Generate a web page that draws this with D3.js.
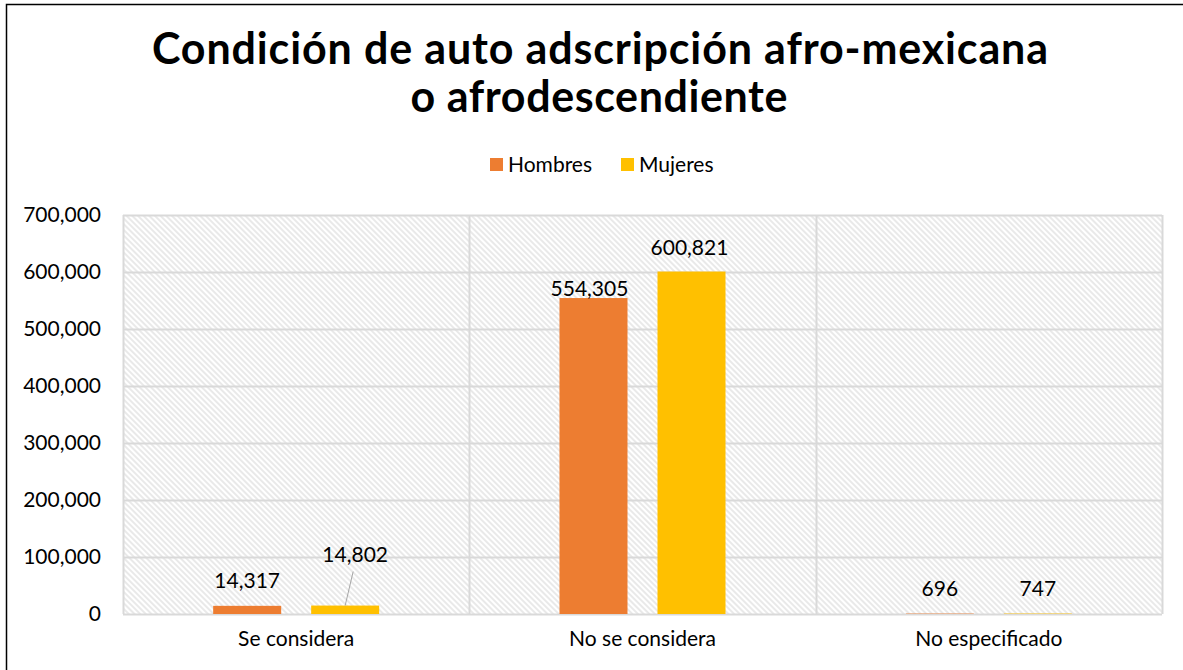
<!DOCTYPE html>
<html>
<head>
<meta charset="utf-8">
<script src="https://cdn.jsdelivr.net/npm/d3@7"></script>
<style>
  body { margin: 0; background: #fff; }
  text { font-family: Lato, "Open Sans", sans-serif; fill: #000; }
</style>
</head>
<body>
<div id="chart"></div>
<script>
// chart data
const categories = ['Se considera', 'No se considera', 'No especificado'];
const seriesNames = ['Hombres', 'Mujeres'];
const hombres = [14317, 554305, 696];
const mujeres = [14802, 600821, 747];
const yTicks = [0, 100000, 200000, 300000, 400000, 500000, 600000, 700000];
const colors = ['#ED7D31', '#FFC000'];

const width = 1183;
const height = 670;
const margin = {top: 215, right: 21, bottom: 56, left: 123};
const plotW = width - margin.left - margin.right;
const plotH = height - margin.top - margin.bottom;

const svg = d3.select('#chart')
    .append('svg')
    .attr('width', width)
    .attr('height', height);

// hatched background pattern
const defs = svg.append('defs');
const pat = defs.append('pattern')
    .attr('id', 'hatch')
    .attr('patternUnits', 'userSpaceOnUse')
    .attr('width', 4)
    .attr('height', 4)
    .attr('patternTransform', 'rotate(45)');
pat.append('rect').attr('width', 4).attr('height', 4).attr('fill', '#fff');
pat.append('line')
    .attr('x1', 0).attr('y1', 2).attr('x2', 4).attr('y2', 2)
    .attr('stroke', '#d4d4d4')
    .attr('stroke-width', 1);

// outer frame (left and top edges visible)
svg.append('path')
    .attr('d', `M6.5,${height} V4.5 H${width}`)
    .attr('fill', 'none')
    .attr('stroke', '#000')
    .attr('stroke-width', 1.5);

// title
const title = svg.append('text')
    .attr('text-anchor', 'middle')
    .style('font-weight', 'bold')
    .style('font-size', '43px');
title.append('tspan')
    .attr('x', 600).attr('y', 64)
    .attr('textLength', 896)
    .attr('lengthAdjust', 'spacing')
    .text('Condición de auto adscripción afro-mexicana');
title.append('tspan')
    .attr('x', 599).attr('y', 112)
    .attr('textLength', 377)
    .attr('lengthAdjust', 'spacing')
    .text('o afrodescendiente');

// legend
const legend = svg.append('g').attr('transform', 'translate(490,158)');
const legItems = legend.selectAll('g')
    .data(seriesNames)
    .enter()
    .append('g')
    .attr('transform', (d, i) => `translate(${i * 131},0)`);
legItems.append('rect')
    .attr('width', 13)
    .attr('height', 13)
    .attr('fill', (d, i) => colors[i]);
legItems.append('text')
    .attr('x', 18)
    .attr('y', 14)
    .style('font-size', '21px')
    .text(d => d);

const g = svg.append('g')
    .attr('transform', `translate(${margin.left},${margin.top})`);

const x = d3.scaleBand()
    .domain(categories)
    .range([0, plotW]);

const y = d3.scaleLinear()
    .domain([0, 700000])
    .range([plotH, 0]);

g.append('rect')
    .attr('width', plotW)
    .attr('height', plotH)
    .attr('fill', 'url(#hatch)');

// horizontal gridlines
g.append('g')
    .selectAll('line')
    .data(yTicks)
    .enter()
    .append('line')
    .attr('x1', 0)
    .attr('x2', plotW)
    .attr('y1', d => Math.round(y(d)) + 0.5)
    .attr('y2', d => Math.round(y(d)) + 0.5)
    .attr('stroke', '#d9d9d9')
    .attr('stroke-width', 2);

// vertical gridlines at category boundaries
const bounds = categories.map(c => x(c)).concat([plotW]);
g.append('g')
    .selectAll('line')
    .data(bounds)
    .enter()
    .append('line')
    .attr('x1', d => Math.round(d) + 0.5)
    .attr('x2', d => Math.round(d) + 0.5)
    .attr('y1', 0)
    .attr('y2', plotH)
    .attr('stroke', '#d9d9d9')
    .attr('stroke-width', 2);

// y axis labels
const yAxis = g.append('g')
    .call(d3.axisLeft(y).tickValues(yTicks).tickSize(0).tickPadding(22).tickFormat(d3.format(',')));
yAxis.select('.domain').remove();
yAxis.selectAll('text')
    .style('font-size', '21px')
    .style('font-family', 'Lato, sans-serif')
    .attr('fill', '#000');

// x axis labels
const xAxis = g.append('g')
    .attr('transform', `translate(0,${plotH})`)
    .call(d3.axisBottom(x).tickSize(0).tickPadding(17));
xAxis.select('.domain').remove();
xAxis.selectAll('text')
    .style('font-size', '21px')
    .style('font-family', 'Lato, sans-serif')
    .attr('fill', '#000');

// bars
const barW = 68;
const gap = 30;
const series = [hombres, mujeres];
const barX = (cat, s) => x(cat) + x.bandwidth() / 2 + (s === 0 ? -gap / 2 - barW : gap / 2);

series.forEach((vals, s) => {
    g.append('g')
        .selectAll('rect')
        .data(categories)
        .enter()
        .append('rect')
        .attr('x', (d, i) => barX(d, s))
        .attr('y', (d, i) => y(vals[i]))
        .attr('width', barW)
        .attr('height', (d, i) => plotH - y(vals[i]))
        .attr('fill', colors[s]);
});

// data labels (offsets mimic the original placement)
const fmt = d3.format(',');
const labelOffsets = [
    [[0, -18], [10, -44]],
    [[-4, -2], [-2, -17]],
    [[0, -18], [0, -18]]
];
series.forEach((vals, s) => {
    g.append('g')
        .selectAll('text')
        .data(categories)
        .enter()
        .append('text')
        .attr('x', (d, i) => barX(d, s) + barW / 2 + labelOffsets[i][s][0])
        .attr('y', (d, i) => y(vals[i]) + labelOffsets[i][s][1])
        .attr('text-anchor', 'middle')
        .style('font-size', '21px')
        .text((d, i) => fmt(vals[i]));
});

// leader line for the moved 14,802 label
g.append('line')
    .attr('x1', barX(categories[0], 1) + barW / 2 + 8)
    .attr('y1', y(mujeres[0]) - 34)
    .attr('x2', barX(categories[0], 1) + barW / 2)
    .attr('y2', y(mujeres[0]))
    .attr('stroke', '#a6a6a6')
    .attr('stroke-width', 1);
</script>
</body>
</html>
